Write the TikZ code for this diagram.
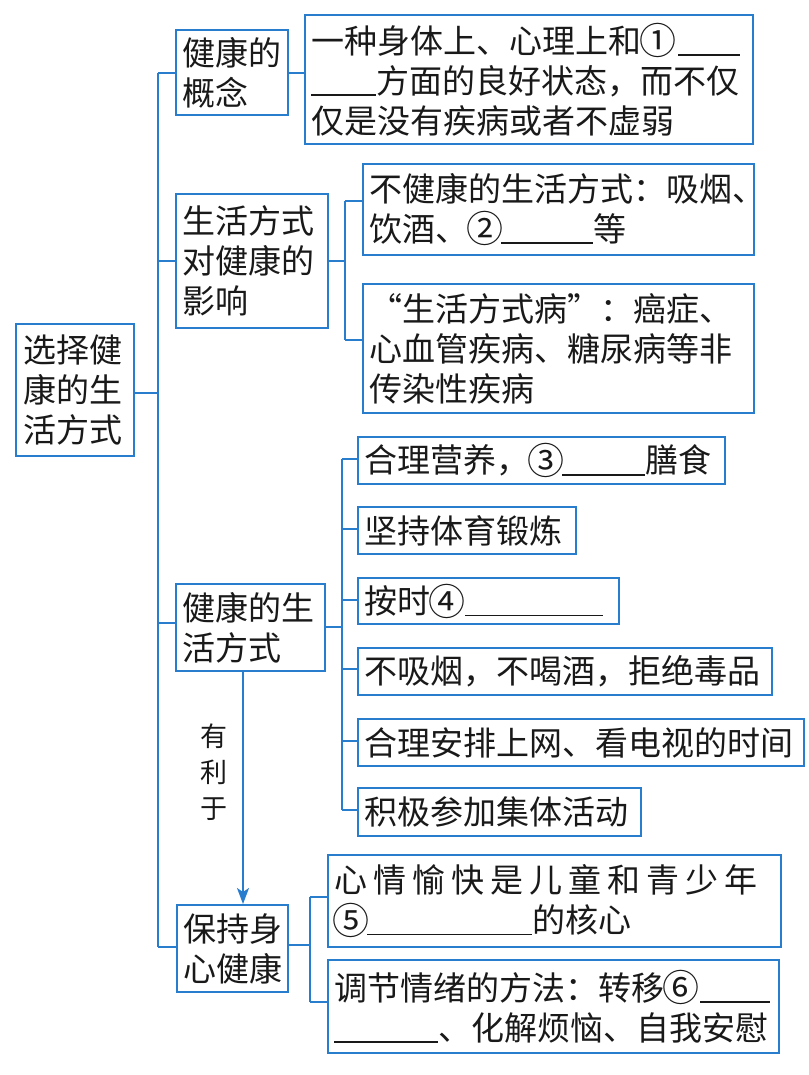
\documentclass[tikz,border=0pt]{standalone}
\usepackage{fontspec}
\newfontfamily\cjk{Noto Sans CJK SC}
\usetikzlibrary{arrows.meta}
\definecolor{lineblue}{RGB}{40,125,205}
\newcommand{\blank}[1]{\rule[-0.08em]{#1}{1.4pt}}
\newcommand{\cn}[1]{\makebox[1em]{\raisebox{-0.05em}{\scalebox{1.12}{#1}}}}
\tikzset{
  box/.style={draw=lineblue, line width=2.2pt, anchor=north west, inner xsep=6pt,
    inner ysep=0pt, align=left, text=black!90,
    font=\cjk\fontsize{33}{40}\selectfont},
  conn/.style={draw=lineblue, line width=1.8pt},
  lbl/.style={font=\cjk\fontsize{27}{36}\selectfont, align=center, text=black!90}
}
\begin{document}
\begin{tikzpicture}[x=1pt,y=-1pt]
\useasboundingbox (0,0) rectangle (808,1075);

% boxes
\node[box, minimum width=118pt, minimum height=132pt, text width=104pt] (root) at (15,323) {选择健\\康的生\\活方式};

\node[box, minimum width=112pt, minimum height=85pt, text width=100pt] (c1) at (175,29) {健康的\\概念};
\node[box, minimum width=448pt, minimum height=129pt, text width=436pt] (d1) at (304,14)
  {一种身体上、心理上和\cn{①}\hspace{4pt}\blank{62pt}\\\blank{65pt}方面的良好状态，而不仅\\仅是没有疾病或者不虚弱};

\node[box, minimum width=152pt, minimum height=134pt, text width=140pt] (c2) at (175,193) {生活方式\\对健康的\\影响};
\node[box, minimum width=391pt, minimum height=91pt, text width=379pt] (d2a) at (362,163)
  {不健康的生活方式：吸烟、\\饮酒、\cn{②}\blank{92pt}等};
\node[box, minimum width=391pt, minimum height=129pt, text width=379pt] (d2b) at (362,283)
  {“生活方式病”：癌症、\\心血管疾病、糖尿病等非\\传染性疾病};

\node[box, minimum width=149pt, minimum height=87pt, text width=137pt] (c3) at (175,583) {健康的生\\活方式};
\node[box, minimum width=367pt, minimum height=47pt, text width=355pt] (d3a) at (357,436) {合理营养，\cn{③}\blank{83pt}膳食};
\node[box, minimum width=218pt, minimum height=47pt, text width=206pt] (d3b) at (357,506) {坚持体育锻炼};
\node[box, minimum width=261pt, minimum height=46pt, text width=249pt] (d3c) at (357,577) {按时\cn{④}\hspace{2pt}\blank{138pt}};
\node[box, minimum width=414pt, minimum height=47pt, text width=402pt] (d3d) at (357,647) {不吸烟，不喝酒，拒绝毒品};
\node[box, minimum width=446pt, minimum height=47pt, text width=434pt] (d3e) at (357,718) {合理安排上网、看电视的时间};
\node[box, minimum width=283pt, minimum height=48pt, text width=271pt] (d3f) at (357,787) {积极参加集体活动};

\node[box, minimum width=111pt, minimum height=87pt, text width=99pt] (c4) at (176,904) {保持身\\心健康};
\node[box, minimum width=453pt, minimum height=92pt, text width=441pt] (d4a) at (327,854)
  {心\hspace{6pt}情\hspace{6pt}愉\hspace{6pt}快\hspace{6pt}是\hspace{6pt}儿\hspace{6pt}童\hspace{6pt}和\hspace{6pt}青\hspace{6pt}少\hspace{6pt}年\\\cn{⑤}\blank{165pt}的核心};
\node[box, minimum width=451pt, minimum height=93pt, text width=439pt] (d4b) at (327,959)
  {调节情绪的方法：转移\cn{⑥}\hspace{3pt}\blank{70pt}\\\blank{104pt}、化解烦恼、自我安慰};

% junction coordinates
\coordinate (t1) at (158,73);
\coordinate (t0) at (158,393);
\coordinate (t2) at (158,261);
\coordinate (t3) at (158,623);
\coordinate (t4) at (158,947);
\coordinate (s2a) at (345,201);
\coordinate (s2m) at (345,261);
\coordinate (s2b) at (345,340);
\coordinate (s3top) at (342,459);
\coordinate (s3m) at (342,627);
\coordinate (s3bot) at (342,810);
\coordinate (s4a) at (310,897);
\coordinate (s4m) at (310,945);
\coordinate (s4b) at (310,1002);
\coordinate (ax) at (243,0);

% trunk
\draw[conn] (t1) -- (t4);
\draw[conn] (root.east |- t0) -- (t0);
\draw[conn] (t1) -- (c1.west |- t1);
\draw[conn] (c1.east |- t1) -- (d1.west |- t1);
\draw[conn] (t2) -- (c2.west |- t2);
\draw[conn] (t3) -- (c3.west |- t3);
\draw[conn] (t4) -- (c4.west |- t4);

% branch 2
\draw[conn] (c2.east |- s2m) -- (s2m);
\draw[conn] (s2a) -- (s2b);
\draw[conn] (s2a) -- (d2a.west |- s2a);
\draw[conn] (s2b) -- (d2b.west |- s2b);

% branch 3
\draw[conn] (c3.east |- s3m) -- (s3m);
\draw[conn] (s3top) -- (s3bot);
\foreach \n/\yy in {d3a/459, d3b/529, d3c/600, d3d/669, d3e/741, d3f/810}{
  \coordinate (j) at (342,\yy);
  \draw[conn] (j) -- (\n.west |- j);
}

% branch 4
\draw[conn] (c4.east |- s4m) -- (s4m);
\draw[conn] (s4a) -- (s4b);
\draw[conn] (s4a) -- (d4a.west |- s4a);
\draw[conn] (s4b) -- (d4b.west |- s4b);

% arrow
\draw[conn, -{Stealth[length=16pt,width=12pt,inset=4pt]}] (c3.south -| ax) -- (c4.north -| ax);
\node[lbl] (yl) at (213.5,772) {有\\利\\于};
\end{tikzpicture}
\end{document}
